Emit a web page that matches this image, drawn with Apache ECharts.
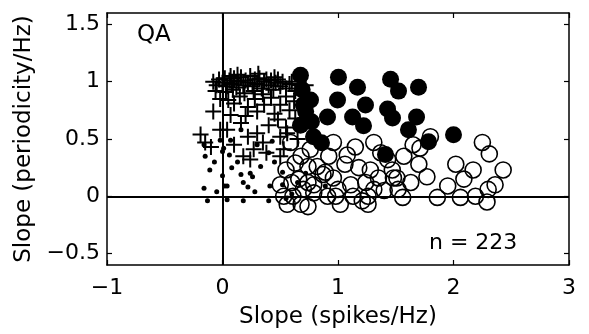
<!DOCTYPE html>
<html>
<head>
<meta charset="utf-8">
<script src="https://cdn.jsdelivr.net/npm/echarts@6/dist/echarts.min.js"></script>
<style>html,body{margin:0;padding:0;background:#fff;}#c{width:589px;height:334px;}</style>
</head>
<body>
<div id="c"></div>
<script>
const xTicks = [-1, 0, 1, 2, 3];
const yTicks = [-0.5, 0, 0.5, 1, 1.5];
const xTitle = 'Slope (spikes/Hz)';
const yTitle = 'Slope (periodicity/Hz)';
const panelLabel = 'QA';
const countLabel = 'n = 223';

const openCircles = [
  [1.80,0.52],[2.25,0.47],[2.31,0.37],[2.02,0.28],[2.17,0.23],[2.43,0.23],[1.65,0.45],[1.71,0.42],
  [1.57,0.35],[1.47,0.23],[1.48,0.16],[1.63,0.12],[1.77,0.17],[1.95,0.09],[1.86,-0.01],[1.56,-0.01],
  [2.19,0.0],[2.30,0.06],[2.29,-0.05],[0.59,0.47],[0.68,0.35],[0.74,0.26],[0.82,0.26],[0.89,0.21],
  [0.96,0.16],[0.96,0.47],[1.08,0.36],[1.31,0.47],[1.18,0.25],[1.28,0.23],[1.24,0.12],[1.31,0.06],
  [1.26,0.0],[1.26,-0.07],[1.21,-0.04],[1.13,0.0],[1.00,0.06],[0.98,0.0],[0.91,0.0],[0.79,0.10],
  [0.74,0.12],[0.70,0.06],[0.61,0.0],[0.68,-0.07],[0.74,-0.09],[0.79,0.03],[0.53,0.0],[0.56,-0.07],
  [0.63,0.29],[1.37,0.38],[1.43,0.32],[1.51,0.16],[1.02,-0.07],[0.87,0.19],[1.11,0.10],[0.66,0.15],
  [0.55,0.23],[1.52,0.06],[1.70,0.28],[0.76,0.41],[0.50,0.10],[1.06,0.28],[1.35,0.16],[2.09,0.15],
  [2.36,0.10],[1.15,0.43],[0.92,0.35],[1.40,0.05],[2.06,-0.01],[0.60,0.12]
];
const filledCircles = [
  [0.675,1.056],[1.004,1.039],[1.169,0.952],[1.455,1.022],[1.524,0.918],[1.697,0.952],[0.996,0.840],
  [1.238,0.797],[1.429,0.762],[1.472,0.684],[0.909,0.693],[1.126,0.693],[1.221,0.615],[1.680,0.693],
  [1.610,0.580],[1.784,0.476],[2.0,0.537],[1.411,0.364],[0.788,0.519],[0.857,0.468],[0.762,0.840],
  [0.69,0.93],[0.72,0.74],[0.675,0.62],[0.70,0.80],[0.77,0.65]
];
const plusPoints = [
  [-0.08,1.0],[-0.05,0.97],[-0.03,1.02],[0.0,0.99],[0.02,1.03],[0.04,0.96],[0.06,1.01],[0.08,0.98],
  [0.1,1.03],[0.12,0.95],[0.14,1.0],[0.16,1.04],[0.18,0.97],[0.2,1.01],[0.22,0.99],[0.24,1.05],
  [0.26,0.96],[0.28,1.02],[0.3,0.98],[0.32,1.03],[0.34,0.94],[0.36,1.0],[0.38,1.02],[0.4,0.97],
  [0.42,1.01],[0.44,0.93],[0.46,0.99],[0.48,1.02],[0.5,0.96],[0.52,1.0],[0.55,0.94],[0.58,0.98],
  [0.6,1.0],[0.63,0.92],[0.66,0.97],[-0.06,0.92],[0.03,0.91],[0.09,0.93],[0.19,0.9],[0.27,0.92],
  [0.35,0.89],[0.45,1.04],[0.13,1.06],[0.31,1.07],[0.07,1.05],
  [-0.02,0.85],[0.05,0.84],[0.1,0.81],[0.15,0.87],[0.22,0.78],[0.28,0.85],[0.36,0.8],[0.42,0.86],
  [0.5,0.8],[0.55,0.87],[0.62,0.83],[0.68,0.9],[0.72,0.97],[-0.08,0.74],[0.07,0.71],[0.3,0.74],
  [0.45,0.72],[0.58,0.75],[0.2,0.7],
  [-0.19,0.54],[-0.1,0.43],[-0.02,0.58],[0.04,0.58],[0.16,0.64],[0.22,0.52],[0.27,0.41],[0.24,0.32],
  [0.3,0.55],[0.35,0.47],[0.48,0.67],[0.5,0.52],[0.5,0.35],[0.56,0.55],[0.63,0.68],[0.55,0.6],
  [0.53,0.41],[0.18,0.35],[0.4,0.62],[-0.15,0.47],[0.1,0.45],[0.65,0.5],[0.38,0.38]
];
const dotPoints = [
  [-0.16,0.45],[-0.15,0.35],[-0.11,0.23],[-0.16,0.07],[-0.05,0.04],[-0.13,-0.04],[0.07,0.49],[0.06,0.36],
  [0.04,0.09],[0.04,-0.03],[0.16,0.19],[0.18,0.12],[0.26,0.17],[0.28,0.04],[0.18,-0.04],[0.41,0.09],
  [0.40,-0.04],[0.52,0.21],[0.43,0.48],[0.65,0.12],[0.0,0.39],[-0.02,0.49],[0.01,0.42],[0.0,0.18],
  [0.02,0.09],[0.16,0.58],[0.33,0.26],[0.24,0.2],[0.4,0.38],[0.52,0.1],[0.6,0.02],[0.13,0.3],
  [-0.07,0.3],[0.45,0.3],[0.89,0.09],[0.72,0.2],[0.3,0.45],[0.55,-0.02],[0.22,0.08],[0.08,0.25]
];

const FONT = 'DejaVu Sans';
const fmt = v => String(v).replace('-', '\u2212');
const chart = echarts.init(document.getElementById('c'), null, {renderer: 'canvas'});
const lineStyle = {color: '#000', width: 1.5};
const tickStyle = {show: true, inside: true, length: 5, lineStyle: {color: '#000', width: 1.2}};

chart.setOption({
  animation: false,
  backgroundColor: '#fff',
  grid: {left: 107, right: 20, top: 13, bottom: 67},
  xAxis: [{
    type: 'value', min: -1, max: 3, interval: 1, position: 'bottom',
    axisLine: {show: true, onZero: false, lineStyle},
    axisTick: tickStyle,
    splitLine: {show: false},
    axisLabel: {formatter: fmt, color: '#000', fontFamily: FONT, fontSize: 22, margin: 12,
      customValues: xTicks},
    name: xTitle, nameLocation: 'middle', nameGap: 41,
    nameTextStyle: {color: '#000', fontFamily: FONT, fontSize: 23}
  }, {
    type: 'value', min: -1, max: 3, interval: 1, position: 'top',
    axisLine: {show: true, onZero: false, lineStyle},
    axisTick: tickStyle, axisLabel: {show: false}, splitLine: {show: false}
  }],
  yAxis: [{
    type: 'value', min: -0.6, max: 1.6, position: 'left',
    axisLine: {show: true, onZero: false, lineStyle},
    axisTick: Object.assign({customValues: yTicks}, tickStyle),
    splitLine: {show: false},
    axisLabel: {formatter: fmt, color: '#000', fontFamily: FONT, fontSize: 22, margin: 7,
      customValues: yTicks},
    name: yTitle, nameLocation: 'middle', nameGap: 66,
    nameTextStyle: {color: '#000', fontFamily: FONT, fontSize: 23}
  }, {
    type: 'value', min: -0.6, max: 1.6, position: 'right',
    axisLine: {show: true, onZero: false, lineStyle},
    axisTick: Object.assign({customValues: yTicks}, tickStyle),
    axisLabel: {show: false, customValues: yTicks}, splitLine: {show: false}
  }],
  graphic: [
    {type: 'text', left: 137, top: 24, style: {text: panelLabel, fill: '#000', font: '23px "DejaVu Sans"'}},
    {type: 'text', left: 429, top: 232, style: {text: countLabel, fill: '#000', font: '22px "DejaVu Sans"'}}
  ],
  series: [
    {
      type: 'scatter', data: openCircles, symbol: 'circle', symbolSize: 16, silent: true,
      itemStyle: {color: 'rgba(0,0,0,0)', borderColor: '#000', borderWidth: 1.6, opacity: 1}
    },
    {
      type: 'scatter', data: filledCircles, symbol: 'circle', symbolSize: 17, silent: true,
      itemStyle: {color: '#000', opacity: 1}
    },
    {
      type: 'scatter', data: plusPoints, symbol: 'path://M0 7 L14 7 M7 0 L7 14', symbolSize: 16, silent: true,
      itemStyle: {color: 'rgba(0,0,0,0)', borderColor: '#000', borderWidth: 2, opacity: 1}
    },
    {
      type: 'scatter', data: dotPoints, symbol: 'circle', symbolSize: 5, silent: true,
      itemStyle: {color: '#000', opacity: 1},
      markLine: {
        silent: true, symbol: 'none', animation: false,
        label: {show: false},
        lineStyle: {color: '#000', width: 2, type: 'solid', opacity: 1},
        data: [{xAxis: 0}, {yAxis: 0}]
      }
    }
  ]
});
</script>
</body>
</html>
